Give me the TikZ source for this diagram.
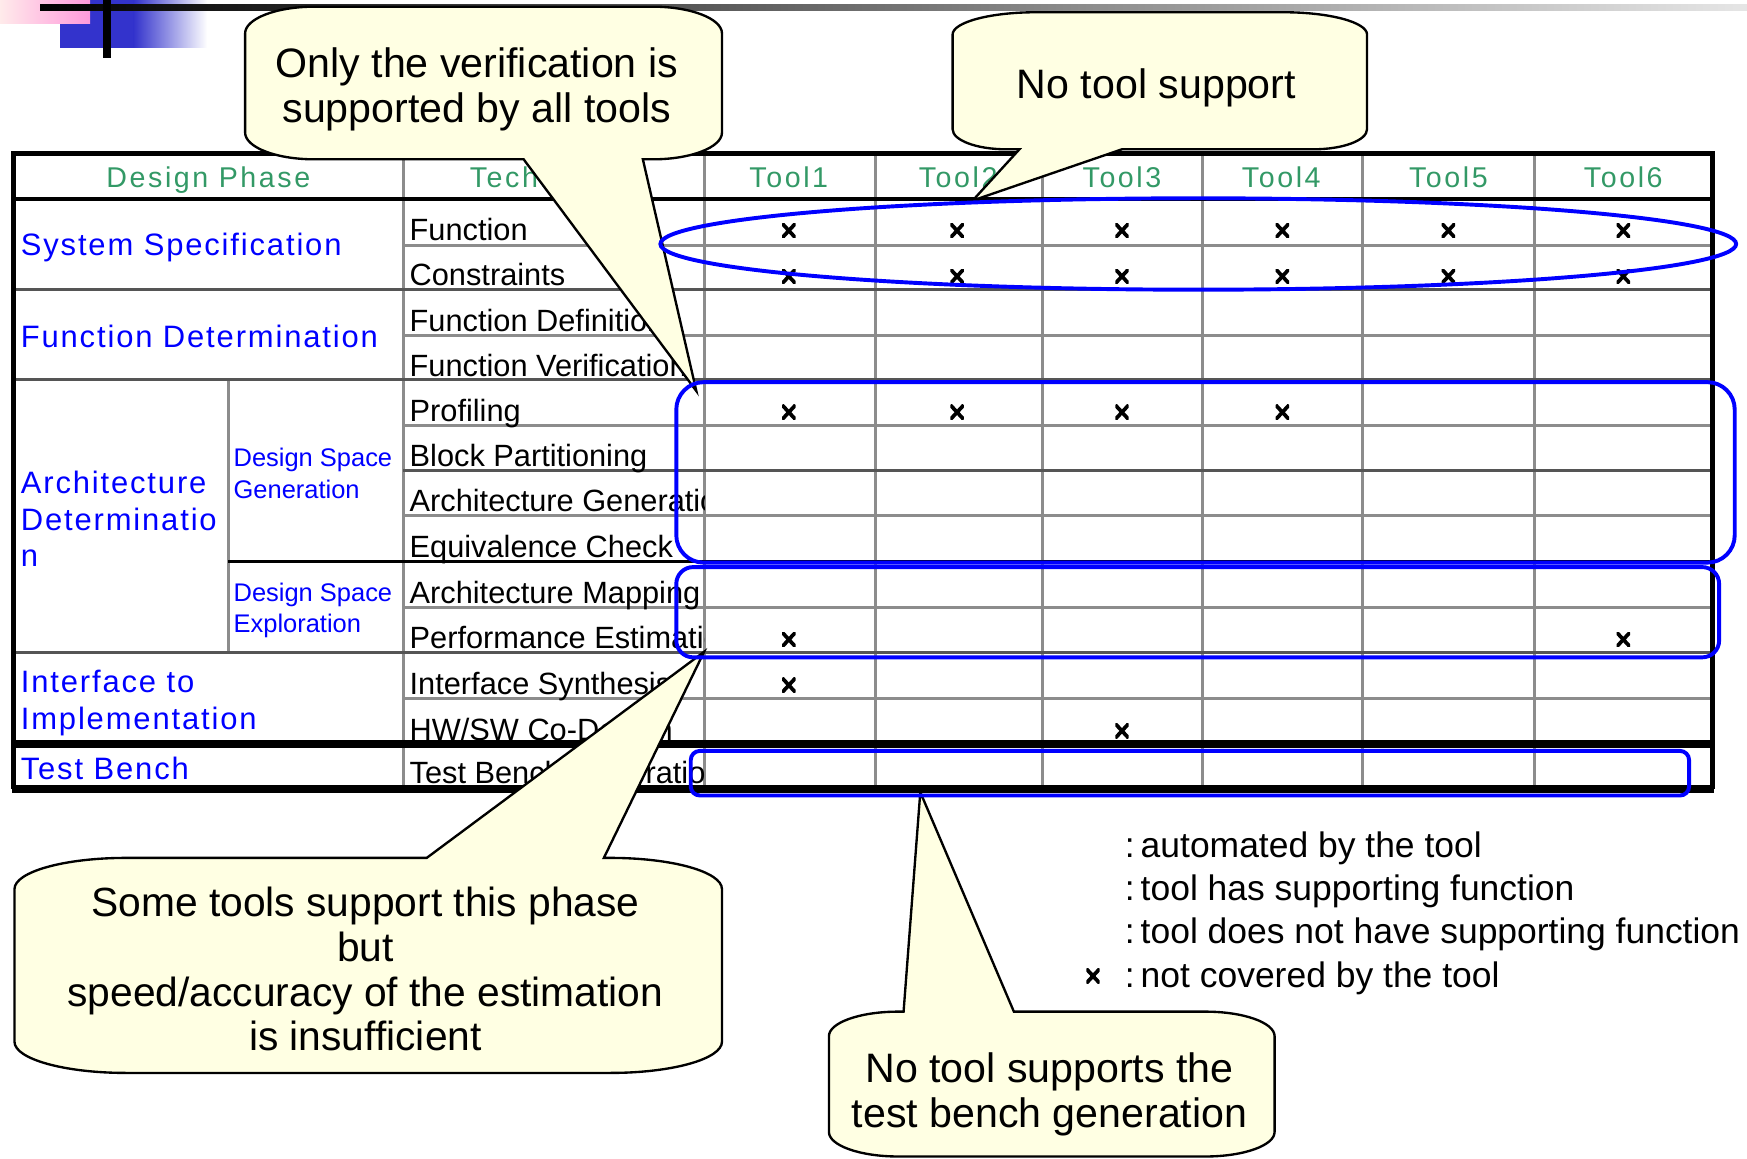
\documentclass[tikz,border=0pt]{standalone}
\usepackage{fontspec}
\setmainfont{Liberation Sans}
\newfontfamily\hdfont[LetterSpace=9]{Liberation Sans}
\newfontfamily\phfont[LetterSpace=6]{Liberation Sans}

\definecolor{hdgreen}{HTML}{339966}
\definecolor{phblue}{HTML}{0000FF}
\definecolor{notefill}{HTML}{FFFFE3}
\definecolor{gridgray}{HTML}{8C8C8C}
\definecolor{griddark}{HTML}{555555}
\definecolor{logoblue}{HTML}{3333CC}

\tikzset{
  gridline/.style={draw=gridgray, line width=0.75pt},
  gridheavy/.style={draw=griddark, line width=0.8pt},
  hdtext/.style={font=\hdfont\fontsize{7.3pt}{8.8pt}\selectfont, text=hdgreen, inner sep=0pt, anchor=base},
  phtext/.style={font=\phfont\fontsize{7.9pt}{9.3pt}\selectfont, text=phblue, inner sep=0pt, align=left, anchor=west},
  subtext/.style={font=\fontsize{6.5pt}{8pt}\selectfont, text=phblue, inner sep=0pt, align=left, anchor=west},
  tech/.style={font=\fontsize{7.85pt}{9pt}\selectfont, inner sep=0pt, anchor=base west},
  xmk/.style={minimum width=0.12cm, minimum height=0.13cm, inner sep=0pt,
    path picture={\draw[line width=0.95pt]
      (path picture bounding box.south west) -- (path picture bounding box.north east)
      (path picture bounding box.north west) -- (path picture bounding box.south east);}},
  hl/.style={draw=phblue, line width=1pt},
  note/.style={draw=black, line width=0.6pt, fill=notefill},
  notetext/.style={font=\fontsize{10.5pt}{11.4pt}\selectfont, align=center, inner sep=0pt},
  legendtxt/.style={font=\fontsize{9.05pt}{11pt}\selectfont, anchor=base west, inner sep=0pt},
}

\begin{document}
\begin{tikzpicture}[x=0.01cm, y=-0.01cm]
\useasboundingbox (0,0) rectangle (1568,1040);

% ---- corner logo ----
\fill[logoblue] (54,0) rectangle (120,43);
\shade[left color=logoblue, right color=white] (120,0) rectangle (186,43);
\shade[left color=red!8, right color=red!35!magenta!40] (0,0) rectangle (81,21);
\shade[left color=black, right color=black!10] (36,3.6) rectangle (1568,9.4);
\fill[black] (92,0) rectangle (100,52);

% ---- table grid ----
\foreach \x in {632,786,936,1079,1223,1377} \draw[gridline] (\x,138) -- (\x,708);
\draw[gridline] (362,138) -- (362,708);
\draw[gridline] (205,341) -- (205,586);
\foreach \y in {220,301,382,463,545,627} \draw[gridline] (362,\y) -- (1537,\y);
\draw[gridheavy] (362,422) -- (1537,422);
\draw[gridheavy] (12,260) -- (1537,260);
\draw[gridheavy] (12,341) -- (1537,341);
\draw[gridheavy] (12,586) -- (1537,586);
\draw[black, line width=0.8pt] (205,504) -- (1537,504);
\draw[black, line width=1pt] (12,179) -- (1537,179);
\draw[black, line width=2pt] (12,668) -- (1537,668);
\draw[black, line width=1.3pt] (12,708) -- (12,138) -- (1537,138) -- (1537,708);
\draw[black, line width=2.2pt] (11,708) -- (1538,708);

% ---- header ----
\node[hdtext] (hPhase) at (187,168.5) {Design Phase};
\node[hdtext] (hTech)  at (497,168.5) {Techniques};
\node[hdtext] (hT1) at (708,168.5) {Tool1};
\node[hdtext] (hT2) at (860,168.5) {Tool2};
\node[hdtext] (hT3) at (1007,168.5) {Tool3};
\node[hdtext] (hT4) at (1150,168.5) {Tool4};
\node[hdtext] (hT5) at (1300,168.5) {Tool5};
\node[hdtext] (hT6) at (1457,168.5) {Tool6};

% ---- design phases ----
\node[phtext] (pSys)  at (18,222) {System Specification};
\node[phtext] (pFun)  at (18,302) {Function Determination};
\node[phtext] (pArch) at (18,466) {Architecture\\Determinatio\\n};
\node[phtext] (pIf)   at (18,631) {Interface to\\Implementation};
\node[phtext] (pTB)   at (18,690) {Test Bench};
\node[subtext] (sGen) at (209,425) {Design Space\\Generation};
\node[subtext] (sExp) at (209,548) {Design Space\\Exploration};

% ---- techniques (cut at the column edge) ----
\begin{scope}
\clip (362,179) rectangle (632,708);
\node[tech] (t1)  at (367,216) {Function};
\node[tech] (t2)  at (367,256.5) {Constraints};
\node[tech] (t3)  at (367,297.5) {Function Definition};
\node[tech] (t4)  at (367,337.5) {Function Verification};
\node[tech] (t5)  at (367,378.5) {Profiling};
\node[tech] (t6)  at (367,418.5) {Block Partitioning};
\node[tech] (t7)  at (367,459.5) {Architecture Generation};
\node[tech] (t8)  at (367,500.5) {Equivalence Check};
\node[tech] (t9)  at (367,541.5) {Architecture Mapping};
\node[tech] (t10) at (367,582.5) {Performance Estimation};
\node[tech] (t11) at (367,623.5) {Interface Synthesis};
\node[tech] (t12) at (367,664.5) {HW/SW Co-Design};
\node[tech] (t13) at (367,703.5) {Test Bench Generation};
\end{scope}

% ---- marks ----
\foreach \x [count=\i] in {708,859,1007,1151,1300,1457} {
  \node[xmk] (mA\i) at (\x,207) {};
  \node[xmk] (mB\i) at (\x,248) {};
}
\foreach \x [count=\i] in {708,859,1007,1151} \node[xmk] (mC\i) at (\x,370) {};
\node[xmk] (mD1) at (708,574) {};
\node[xmk] (mD6) at (1457,574) {};
\node[xmk] (mE1) at (708,615) {};
\node[xmk] (mF3) at (1007,656) {};

% ---- legend ----
\node[xmk] (lgx) at (981,876) {};
\node[legendtxt] (lg1) at (1009,770) {:\,automated by the tool};
\node[legendtxt] (lg2) at (1009,808) {:\,tool has supporting function};
\node[legendtxt] (lg3) at (1009,847) {:\,tool does not have supporting function};
\node[legendtxt] (lg4) at (1009,886) {:\,not covered by the tool};

% ---- callouts ----
\draw[note] (220,30) .. controls (220,16.8) and (247.8,6) .. (282,6) -- (586,6)
  .. controls (620.2,6) and (648,16.8) .. (648,30) -- (648,119)
  .. controls (648,132.2) and (620.2,143) .. (586,143) -- (577,143) -- (625,351) -- (470,143)
  -- (282,143) .. controls (247.8,143) and (220,132.2) .. (220,119) -- cycle;
\node[notetext] (cA) at (428,80) {Only the verification is\\supported by all tools};

\draw[note] (855,31) .. controls (855,20) and (888.6,11) .. (930,11) -- (1152,11)
  .. controls (1193.4,11) and (1227,20) .. (1227,31) -- (1227,116)
  .. controls (1227,125.9) and (1205.5,134) .. (1179,134) -- (1007,134) -- (873,180) -- (915,134)
  -- (903,134) .. controls (876.5,134) and (855,125.9) .. (855,116) -- cycle;
\node[notetext] (cB) at (1038,79) {No tool support};

\draw[note] (13,798) .. controls (13,782.5) and (57.8,770) .. (113,770) -- (383,770) -- (632,585)
  -- (542,770) -- (548,770) .. controls (603.2,770) and (648,782.5) .. (648,798) -- (648,935)
  .. controls (648,950.5) and (603.2,963) .. (548,963) -- (113,963)
  .. controls (57.8,963) and (13,950.5) .. (13,935) -- cycle;
\node[notetext, font=\fontsize{10.4pt}{11.4pt}\selectfont] (cC) at (328,870)
  {Some tools support this phase\\but\\speed/accuracy of the estimation\\is insufficient};

\draw[note] (744,930) .. controls (744,917.9) and (771.8,908) .. (806,908) -- (811,908) -- (826,711)
  -- (910,908) -- (1082,908) .. controls (1116.2,908) and (1144,917.9) .. (1144,930) -- (1144,1016)
  .. controls (1144,1028.1) and (1116.2,1038) .. (1082,1038) -- (806,1038)
  .. controls (771.8,1038) and (744,1028.1) .. (744,1016) -- cycle;
\node[notetext] (cD) at (942,982) {No tool supports the\\test bench generation};

% ---- highlights ----
\draw[hl] (1075.5,219) ellipse [x radius=4.825cm, y radius=0.41cm];
\draw[hl, rounded corners=7pt] (607,343) rectangle (1557,505);
\draw[hl, rounded corners=4.3pt] (607,509) rectangle (1543,590);
\draw[hl, rounded corners=2.3pt] (620,674) rectangle (1516,714);
\end{tikzpicture}
\end{document}
